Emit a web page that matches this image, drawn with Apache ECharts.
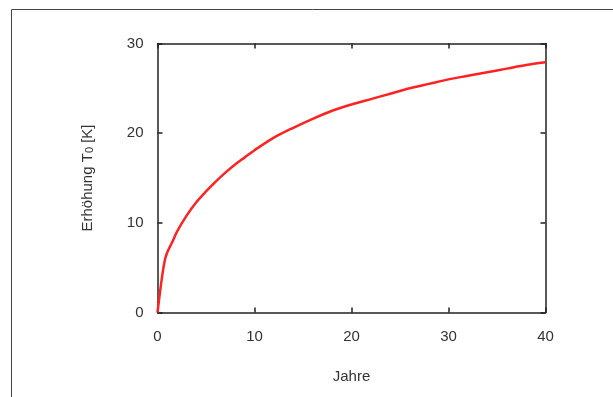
<!DOCTYPE html>
<html>
<head>
<meta charset="utf-8">
<script src="https://cdn.jsdelivr.net/npm/echarts@6/dist/echarts.min.js"></script>
<style>
  html, body { margin: 0; padding: 0; background: #fff; }
  #chart { width: 613px; height: 397px; }
</style>
</head>
<body>
<div id="chart"></div>
<script>
  // Jahre / Erhöhung T0 [K]
  var years = [0, 0.25, 0.5, 0.75, 1, 1.5, 2, 3, 4, 5, 6, 7, 8, 9, 10, 12, 14, 16, 18, 20, 22, 24, 26, 28, 30, 32, 34, 36, 38, 40];
  var rise = [0, 2.2, 4.2, 5.8, 6.7, 7.8, 9.0, 10.8, 12.3, 13.5, 14.6, 15.6, 16.5, 17.3, 18.1, 19.5, 20.6, 21.6, 22.5, 23.2, 23.8, 24.4, 25.0, 25.5, 26.0, 26.4, 26.8, 27.2, 27.6, 27.9];
  var xTicks = [0, 10, 20, 30, 40];
  var yTicks = [0, 10, 20, 30];

  var chart = echarts.init(document.getElementById('chart'));

  var axisLine = { show: true, onZero: false, lineStyle: { color: '#222', width: 1.5 } };
  var tick = { show: true, inside: true, length: 5, lineStyle: { color: '#222', width: 1.5 } };
  var label = { color: '#333', fontSize: 15, fontFamily: 'Liberation Sans, Arial, sans-serif' };

  var option = {
    animation: false,
    graphic: [{
      type: 'polyline',
      shape: { points: [[11.5, 400], [11.5, 9.5], [620, 9.5]] },
      style: { stroke: '#444', lineWidth: 1, fill: null }
    }],
    grid: { left: 157.5, top: 43.5, right: 67.5, bottom: 84.5 },
    xAxis: [{
      type: 'value', min: 0, max: 40, interval: 10,
      name: 'Jahre', nameLocation: 'middle', nameGap: 57,
      nameTextStyle: { color: '#333', fontSize: 15, fontFamily: 'Liberation Sans, Arial, sans-serif' },
      axisLine: axisLine, axisTick: tick,
      axisLabel: Object.assign({ margin: 17, formatter: function (v) { return xTicks.indexOf(v) > -1 ? String(v) : ''; } }, label),
      splitLine: { show: false }
    }, {
      type: 'value', position: 'top', min: 0, max: 40, interval: 10,
      axisLine: axisLine, axisTick: tick, axisLabel: { show: false }, splitLine: { show: false }
    }],
    yAxis: [{
      type: 'value', min: 0, max: 30, interval: 10,
      name: 'Erhöhung T{sub|0} [K]', nameLocation: 'middle', nameGap: 62,
      nameTextStyle: {
        color: '#333', fontSize: 15, fontFamily: 'Liberation Sans, Arial, sans-serif',
        rich: { sub: { fontSize: 11, color: '#333', padding: [5, 0, 0, 0], fontFamily: 'Liberation Sans, Arial, sans-serif' } }
      },
      axisLine: axisLine, axisTick: tick,
      axisLabel: Object.assign({ margin: 14, formatter: function (v) { return yTicks.indexOf(v) > -1 ? String(v) : ''; } }, label),
      splitLine: { show: false }
    }, {
      type: 'value', position: 'right', min: 0, max: 30, interval: 10,
      axisLine: axisLine, axisTick: tick, axisLabel: { show: false }, splitLine: { show: false }
    }],
    series: [{
      type: 'line',
      data: years.map(function (t, i) { return [t, rise[i]]; }),
      smooth: 0.3,
      showSymbol: false,
      lineStyle: { color: '#ff2222', width: 2.5 }
    }]
  };

  chart.setOption(option);
</script>
</body>
</html>
